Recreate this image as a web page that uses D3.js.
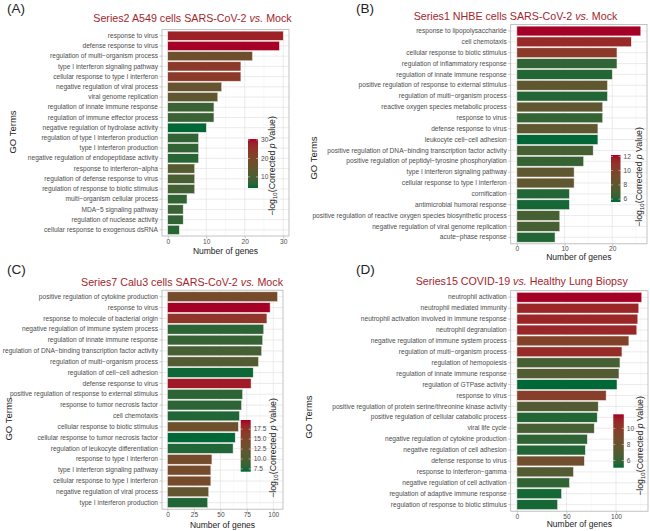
<!DOCTYPE html>
<html>
<head>
<meta charset="utf-8">
<script src="https://cdn.jsdelivr.net/npm/d3@7"></script>
<style>
  html, body { margin: 0; padding: 0; background: #fff; }
  svg { display: block; }
</style>
</head>
<body>
<svg id="chart" width="650" height="531"></svg>
<script>
// ---------------- DATA ----------------
const titleA = "Series2 A549 cells SARS-CoV-2 ";
const termsA = ["response to virus","defense response to virus","regulation of multi\u2212organism process","type I interferon signaling pathway","cellular response to type I interferon","negative regulation of viral process","viral genome replication","regulation of innate immune response","regulation of immune effector process","negative regulation of hydrolase activity","regulation of type I interferon production","type I interferon production","negative regulation of endopeptidase activity","response to interferon\u2212alpha","regulation of defense response to virus","regulation of response to biotic stimulus","multi\u2212organism cellular process","MDA\u22125 signaling pathway","regulation of nuclease activity","cellular response to exogenous dsRNA"];
const countsA = [30,29,22,19,19,14,13,12,12,10,8,8,8,7,7,7,5,4,4,3];
const pvalA = [28,30.5,17,24,24,15,14,8,8,4,7,7,6,12,10,9,7,8,7,6];
const xTicksA = [0,10,20,30];
const legTicksA = [10,20,30];

const titleB = "Series1 NHBE cells SARS-CoV-2 ";
const termsB = ["response to lipopolysaccharide","cell chemotaxis","cellular response to biotic stimulus","regulation of inflammatory response","regulation of innate immune response","positive regulation of response to external stimulus","regulation of multi\u2212organism process","reactive oxygen species metabolic process","response to virus","defense response to virus","leukocyte cell\u2212cell adhesion","positive regulation of DNA\u2212binding transcription factor activity","positive regulation of peptidyl\u2212tyrosine phosphorylation","type I interferon signaling pathway","cellular response to type I interferon","cornification","antimicrobial humoral response","positive regulation of reactive oxygen species biosynthetic process","negative regulation of viral genome replication","acute\u2212phase response"];
const countsB = [26,24,21,21,20,19,19,18,18,17,17,16,14,12,12,11,11,9,9,8];
const pvalB = [12.2,11.3,10.5,6.3,6,8,6,8,6.4,8,5.6,7,6.5,8,8,6,5.8,7,7,6];
const xTicksB = [0,10,20];
const legTicksB = [6,8,10,12];

const titleC = "Series7 Calu3 cells SARS-CoV-2 ";
const termsC = ["positive regulation of cytokine production","response to virus","response to molecule of bacterial origin","negative regulation of immune system process","regulation of innate immune response","regulation of DNA\u2212binding transcription factor activity","regulation of multi\u2212organism process","regulation of cell\u2212cell adhesion","defense response to virus","positive regulation of response to external stimulus","response to tumor necrosis factor","cell chemotaxis","cellular response to biotic stimulus","cellular response to tumor necrosis factor","regulation of leukocyte differentiation","response to type I interferon","type I interferon signaling pathway","cellular response to type I interferon","negative regulation of viral process","type I interferon production"];
const countsC = [104,97,94,91,90,89,86,81,79,71,70,68,67,64,62,42,41,41,39,38];
const pvalC = [14,19.8,17,8,8.5,9.5,10.5,7,19,8,8,7.5,13,6.8,7.5,14,14,14,12,7.5];
const xTicksC = [0,25,50,75,100];
const legTicksC = [7.5,10,12.5,15,17.5];

const titleD = "Series15 COVID-19 ";
const termsD = ["neutrophil activation","neutrophil mediated immunity","neutrophil activation involved in immune response","neutrophil degranulation","negative regulation of immune system process","regulation of multi\u2212organism process","regulation of hemopoiesis","regulation of innate immune response","regulation of GTPase activity","response to virus","positive regulation of protein serine/threonine kinase activity","positive regulation of cellular catabolic process","viral life cycle","negative regulation of cytokine production","negative regulation of cell adhesion","defense response to virus","response to interferon\u2212gamma","negative regulation of cell activation","regulation of adaptive immune response","regulation of response to biotic stimulus"];
const countsD = [126,123,122,121,113,106,104,103,101,90,82,81,78,71,69,68,57,53,45,41];
const pvalD = [11.75,11,11,11,9.5,10.8,6.5,7,5.1,9.8,7,5.5,6.5,5.8,5.5,8.5,7,5.8,5.3,5.3];
const xTicksD = [0,50,100];
const legTicksD = [6,8,10];

// ---------------- STYLE / LAYOUT ----------------
const FONT = "'Liberation Sans', Arial, Helvetica, sans-serif";
const LOW = "#006837", HIGH = "#a50026";
const TITLE_COL = "#a3262c";
const TXT = "#4d4d4d";

const panels = [
  { tag:"(A)", tagX:7, tagY:13, title:titleA, titleEnd:"Mock", titleX:192.5, titleY:22,
    terms:termsA, counts:countsA, pvals:pvalA, xticks:xTicksA, legTicks:legTicksA,
    box:{l:162,r:289,t:29.6,b:236}, xlabY:254, goX:13, goY:132,
    leg:{x:248,y:139,w:10,h:49}, legTitleX:273, legTitleY:166 },
  { tag:"(B)", tagX:356, tagY:13, title:titleB, titleEnd:"Mock", titleX:515.5, titleY:19.5,
    terms:termsB, counts:countsB, pvals:pvalB, xticks:xTicksB, legTicks:legTicksB,
    box:{l:510.7,r:647,t:24.5,b:243.8}, xlabY:260, goX:314, goY:158,
    leg:{x:611,y:155,w:9.5,h:47}, legTitleX:640, legTitleY:177 },
  { tag:"(C)", tagX:7, tagY:274, title:titleC, titleEnd:"Mock", titleX:182, titleY:285.5,
    terms:termsC, counts:countsC, pvals:pvalC, xticks:xTicksC, legTicks:legTicksC,
    box:{l:162,r:283,t:290.2,b:509.2}, xlabY:527.5, goX:9, goY:419,
    leg:{x:240.7,y:420,w:10,h:51.7}, legTitleX:274, legTitleY:448 },
  { tag:"(D)", tagX:356, tagY:274, title:titleD, titleEnd:"Healthy Lung Biopsy", titleX:521.7, titleY:285,
    terms:termsD, counts:countsD, pvals:pvalD, xticks:xTicksD, legTicks:legTicksD,
    box:{l:510.7,r:648,t:290.7,b:511.2}, xlabY:527, goX:309, goY:417,
    leg:{x:613.3,y:414.3,w:10.5,h:53.4}, legTitleX:641, legTitleY:446 }
];

const svg = d3.select("#chart");
svg.append("rect").attr("width",650).attr("height",531).attr("fill","#fff");
const defs = svg.append("defs");

panels.forEach((P, pi) => {
  const g = svg.append("g");
  const {l, r, t, b} = P.box;
  const maxV = d3.max(P.counts);
  const x = d3.scaleLinear().domain([-0.05*maxV, 1.05*maxV]).range([l, r]);
  const y = d3.scaleBand().domain(P.terms).range([t, b]).paddingInner(0.1).paddingOuter(0.15);
  const ext = d3.extent(P.pvals);
  const color = d3.scaleLinear().domain(ext).range([LOW, HIGH]).interpolate(d3.interpolateLab);

  // panel label and title
  g.append("text").attr("x",P.tagX).attr("y",P.tagY).attr("font-family",FONT)
    .attr("font-size",13.5).attr("fill","#222").text(P.tag);
  const tt = g.append("text").attr("x",P.titleX).attr("y",P.titleY).attr("text-anchor","middle")
    .attr("font-family",FONT).attr("font-size",10.7).attr("fill",TITLE_COL);
  tt.append("tspan").text(P.title);
  tt.append("tspan").attr("font-style","italic").text("vs.");
  tt.append("tspan").text(" " + P.titleEnd);

  // grid
  const step = P.xticks[1] - P.xticks[0];
  const minor = [];
  for (let v = P.xticks[0] - step/2; v <= x.domain()[1]; v += step) {
    if (v >= x.domain()[0]) minor.push(v);
  }
  g.append("g").selectAll("line").data(minor).join("line")
    .attr("x1",d=>x(d)).attr("x2",d=>x(d)).attr("y1",t).attr("y2",b)
    .attr("stroke","#efefef").attr("stroke-width",0.4);
  g.append("g").selectAll("line").data(P.xticks).join("line")
    .attr("x1",d=>x(d)).attr("x2",d=>x(d)).attr("y1",t).attr("y2",b)
    .attr("stroke","#e2e2e2").attr("stroke-width",0.7);
  g.append("g").selectAll("line").data(P.terms).join("line")
    .attr("x1",l).attr("x2",r).attr("y1",d=>y(d)+y.bandwidth()/2).attr("y2",d=>y(d)+y.bandwidth()/2)
    .attr("stroke","#e2e2e2").attr("stroke-width",0.7);

  // bars
  g.append("g").selectAll("rect").data(P.terms).join("rect")
    .attr("x", x(0))
    .attr("y", d => y(d))
    .attr("width", (d,i) => x(P.counts[i]) - x(0))
    .attr("height", y.bandwidth())
    .attr("fill", (d,i) => color(P.pvals[i]))
    .attr("stroke", "#f4eeee").attr("stroke-width", 0.5);

  // border
  g.append("rect").attr("x",l).attr("y",t).attr("width",r-l).attr("height",b-t)
    .attr("fill","none").attr("stroke","#b3b3b3").attr("stroke-width",0.8);

  // axes
  const yAxis = g.append("g").attr("transform",`translate(${l},0)`)
    .call(d3.axisLeft(y).tickSize(2.5).tickPadding(1.5));
  const xAxis = g.append("g").attr("transform",`translate(0,${b})`)
    .call(d3.axisBottom(x).tickValues(P.xticks).tickSize(2.5).tickPadding(0.5).tickFormat(d3.format("d")));
  [yAxis, xAxis].forEach(ax => {
    ax.select(".domain").remove();
    ax.selectAll(".tick line").attr("stroke","#b3b3b3").attr("stroke-width",0.7);
    ax.selectAll(".tick text").attr("font-family",FONT).attr("font-size",6.6).attr("fill",TXT);
  });

  // axis titles
  g.append("text").attr("x",(l+r)/2).attr("y",P.xlabY).attr("text-anchor","middle")
    .attr("font-family",FONT).attr("font-size",8.5).attr("fill","#222").text("Number of genes");
  g.append("text").attr("transform",`translate(${P.goX},${P.goY}) rotate(-90)`)
    .attr("text-anchor","middle").attr("dominant-baseline","middle")
    .attr("font-family",FONT).attr("font-size",9.5).attr("fill","#222").text("GO Terms");

  // legend colorbar
  const L = P.leg;
  const gid = "grad" + pi;
  const grad = defs.append("linearGradient").attr("id",gid)
    .attr("x1","0").attr("y1","1").attr("x2","0").attr("y2","0");
  d3.range(0, 1.0001, 0.1).forEach(f => {
    grad.append("stop").attr("offset", f).attr("stop-color", color(ext[0] + f*(ext[1]-ext[0])));
  });
  g.append("rect").attr("x",L.x).attr("y",L.y).attr("width",L.w).attr("height",L.h)
    .attr("fill",`url(#${gid})`);
  const ly = d3.scaleLinear().domain(ext).range([L.y + L.h, L.y]);
  const lt = g.append("g").selectAll("g").data(P.legTicks).join("g");
  lt.append("line").attr("x1",L.x).attr("x2",L.x+2).attr("y1",d=>ly(d)).attr("y2",d=>ly(d))
    .attr("stroke","#fff").attr("stroke-width",0.6).attr("opacity",0.8);
  lt.append("line").attr("x1",L.x+L.w-2).attr("x2",L.x+L.w).attr("y1",d=>ly(d)).attr("y2",d=>ly(d))
    .attr("stroke","#fff").attr("stroke-width",0.6).attr("opacity",0.8);
  lt.append("text").attr("x",L.x+L.w+3).attr("y",d=>ly(d)).attr("dy","0.35em")
    .attr("font-family",FONT).attr("font-size",6.6).attr("fill",TXT)
    .text(d => (P.legTicks.some(v => v % 1 !== 0) ? d3.format(".1f")(d) : d3.format("d")(d)));

  // legend title
  const lt2 = g.append("text").attr("transform",`translate(${P.legTitleX},${P.legTitleY}) rotate(-90)`)
    .attr("text-anchor","middle").attr("dominant-baseline","middle")
    .attr("font-family",FONT).attr("font-size",8.8).attr("fill","#222");
  lt2.append("tspan").text("\u2212log");
  lt2.append("tspan").attr("font-size",6).attr("dy",2).text("10");
  lt2.append("tspan").attr("dy",-2).text("(Corrected ");
  lt2.append("tspan").attr("font-style","italic").text("p");
  lt2.append("tspan").text(" Value)");
});
</script>
</body>
</html>
